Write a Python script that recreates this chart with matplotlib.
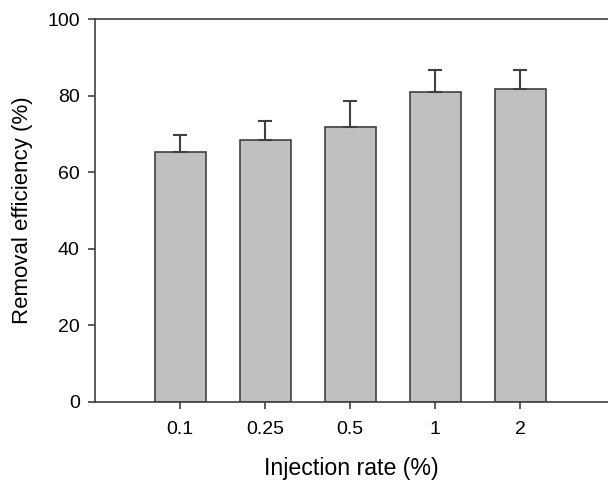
import numpy as np
import matplotlib
matplotlib.use("Agg")
import matplotlib.pyplot as plt

plt.rcParams['font.family'] = ['Liberation Sans', 'DejaVu Sans']

# data
categories = ["0.1", "0.25", "0.5", "1", "2"]
efficiency = [65.4, 68.3, 71.8, 81.0, 81.6]
err_upper = [4.3, 5.1, 6.9, 5.7, 5.1]

edge = "#404040"

fig = plt.figure(figsize=(6.08, 4.8), dpi=100)
ax = fig.add_axes([95 / 608, 1 - 402 / 480, 513 / 608, 383 / 480])

x = np.arange(len(categories))
ax.bar(x, efficiency, width=0.6, color="#c0c0c0", edgecolor=edge, linewidth=1.2,
       yerr=[np.zeros(len(err_upper)), err_upper],
       error_kw=dict(ecolor=edge, elinewidth=1.5, capsize=5, capthick=1.5))

ax.set_xlim(-1, 5.03)
ax.set_ylim(0, 100)
ax.set_yticks([0, 20, 40, 60, 80, 100])
ax.set_xticks(x)
ax.set_xticklabels(categories)

for s in ax.spines.values():
    s.set_color(edge)
    s.set_linewidth(1.2)
ax.spines['right'].set_visible(False)

ax.tick_params(axis='both', direction='out', length=5, width=1.2, color=edge,
               labelsize=14)
ax.tick_params(axis='x', pad=9)
ax.tick_params(axis='y', pad=6)

ax.set_xlabel("Injection rate (%)", fontsize=16.7, labelpad=13)
ax.set_ylabel("Removal efficiency (%)", fontsize=16, labelpad=10)

fig.savefig("out.png", dpi=100)
